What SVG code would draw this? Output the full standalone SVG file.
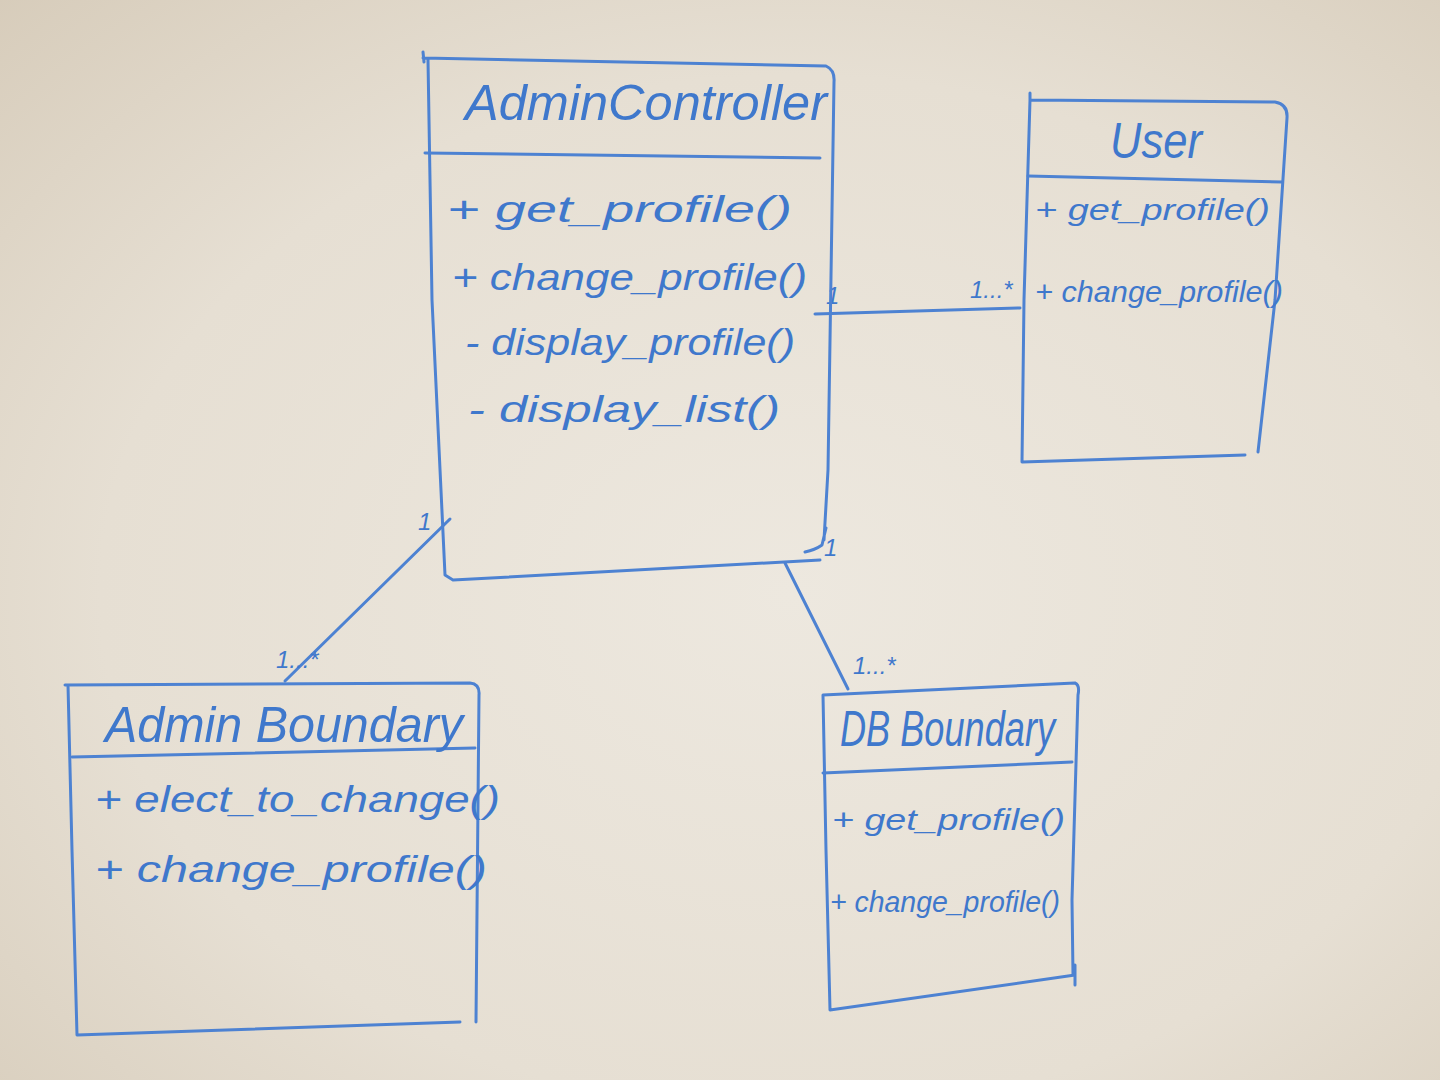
<svg xmlns="http://www.w3.org/2000/svg" width="1440" height="1080" viewBox="0 0 1440 1080">
<defs>
<radialGradient id="bg" cx="0.55" cy="0.55" r="0.8">
<stop offset="0" stop-color="#ede8df"/>
<stop offset="0.6" stop-color="#e6dfd3"/>
<stop offset="1" stop-color="#d6cbb9"/>
</radialGradient>
<style>
.ink{fill:none;stroke:#4d82d2;stroke-width:3;stroke-linecap:round;stroke-linejoin:round}
.t{fill:#3f78cc;font-family:"Liberation Sans","DejaVu Sans",sans-serif;font-style:italic}
.title{font-size:50px}
.m{font-size:36px}
.s{font-size:30px}
.lbl{font-size:24px}
</style>
</defs>
<rect width="1440" height="1080" fill="url(#bg)"/>

<g id="connectors">
<path class="ink" d="M815,314 L1020,308"/>
<path class="ink" d="M450,519 L285,681"/>
<path class="ink" d="M785,563 L848,689"/>
<text class="t lbl" x="826" y="304">1</text>
<text class="t lbl" x="970" y="298">1...*</text>
<text class="t lbl" x="418" y="530">1</text>
<text class="t lbl" x="276" y="668">1...*</text>
<text class="t lbl" x="824" y="556">1</text>
<text class="t lbl" x="853" y="674">1...*</text>
</g>

<g id="AdminController">
<path class="ink" d="M423,52 L424,62 M423,58 L826,66 Q835,70 834,82 L828,470 L824,540 M826,528 L822,545 Q815,550 805,552 M428,60 L432,300 L445,575 L453,580 L820,560"/>
<path class="ink" d="M425,153 L820,158"/>
<text class="t title" x="465" y="120" textLength="362" lengthAdjust="spacingAndGlyphs">AdminController</text>
<text class="t m" x="447" y="222" textLength="345" lengthAdjust="spacingAndGlyphs">+ get_profile()</text>
<text class="t m" x="452" y="290" textLength="355" lengthAdjust="spacingAndGlyphs">+ change_profile()</text>
<text class="t m" x="465" y="355" textLength="330" lengthAdjust="spacingAndGlyphs">- display_profile()</text>
<text class="t m" x="468" y="422" textLength="312" lengthAdjust="spacingAndGlyphs">- display_list()</text>
</g>

<g id="User">
<path class="ink" d="M1030,93 L1030,100 L1275,102 Q1288,104 1287,118 L1275,300 L1258,452 M1030,100 L1024,300 L1022,462 L1245,455"/>
<path class="ink" d="M1028,176 L1282,182"/>
<text class="t title" x="1110" y="158" textLength="92" lengthAdjust="spacingAndGlyphs">User</text>
<text class="t s" x="1035" y="220" textLength="235" lengthAdjust="spacingAndGlyphs">+ get_profile()</text>
<text class="t s" x="1035" y="302" textLength="248" lengthAdjust="spacingAndGlyphs">+ change_profile()</text>
</g>

<g id="AdminBoundary">
<path class="ink" d="M65,685 L470,683 Q480,684 479,695 L476,1022 M68,685 L72,850 L77,1035 L460,1022"/>
<path class="ink" d="M72,757 L475,748"/>
<text class="t title" x="105" y="742" textLength="358" lengthAdjust="spacingAndGlyphs">Admin Boundary</text>
<text class="t m" x="95" y="812" textLength="405" lengthAdjust="spacingAndGlyphs">+ elect_to_change()</text>
<text class="t m" x="95" y="882" textLength="392" lengthAdjust="spacingAndGlyphs">+ change_profile()</text>
</g>

<g id="DBBoundary">
<path class="ink" d="M823,695 L1075,683 Q1080,685 1078,695 L1072,900 L1073,975 M823,695 L826,850 L830,1010 L1075,975 M1075,965 L1075,985"/>
<path class="ink" d="M823,773 L1072,762"/>
<text class="t title" x="840" y="746" font-size="44" textLength="215" lengthAdjust="spacingAndGlyphs">DB Boundary</text>
<text class="t s" x="832" y="830" textLength="233" lengthAdjust="spacingAndGlyphs">+ get_profile()</text>
<text class="t s" x="830" y="912" font-size="26" textLength="230" lengthAdjust="spacingAndGlyphs">+ change_profile()</text>
</g>
</svg>
